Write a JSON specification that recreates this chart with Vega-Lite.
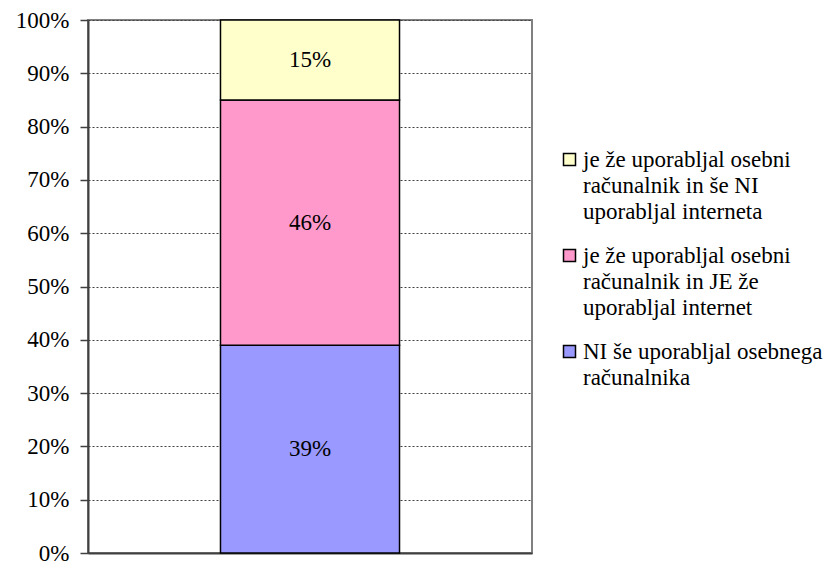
{
  "$schema": "https://vega.github.io/schema/vega-lite/v6.json",
  "autosize": {"type": "none"},
  "padding": {"left": 88, "top": 20, "right": 302, "bottom": 8},
  "width": 444,
  "height": 533,
  "background": "white",
  "config": {
    "view": {"stroke": "#808080", "strokeWidth": 2},
    "font": "'Liberation Serif', serif",
    "style": {"guide-label": {"lineHeight": 26}}
  },
  "data": {
    "values": [
      {"grp": "A", "kat": "NI še uporabljal osebnega računalnika", "share": 0.39, "ord": 1},
      {"grp": "A", "kat": "je že uporabljal osebni računalnik in JE že uporabljal internet", "share": 0.46, "ord": 2},
      {"grp": "A", "kat": "je že uporabljal osebni računalnik in še NI uporabljal interneta", "share": 0.15, "ord": 3}
    ]
  },
  "transform": [
    {"stack": "share", "groupby": ["grp"], "sort": [{"field": "ord", "order": "ascending"}], "as": ["y0", "y1"]},
    {"calculate": "(datum.y0 + datum.y1) / 2", "as": "ymid"}
  ],
  "encoding": {
    "x": {
      "field": "grp", "type": "nominal",
      "scale": {"paddingInner": 0, "paddingOuter": 0.74},
      "axis": {"title": null, "labels": false, "ticks": false, "domainColor": "#404040", "domainWidth": 2}
    }
  },
  "layer": [
    {
      "mark": {"type": "bar", "stroke": "black", "strokeWidth": 1.5},
      "encoding": {
        "y": {
          "field": "y0", "type": "quantitative",
          "scale": {"domain": [0, 1], "nice": false},
          "axis": {
            "title": null, "format": ".0%", "values": [0,0.1,0.2,0.3,0.4,0.5,0.6,0.7,0.8,0.9,1],
            "labelOverlap": false,
            "labelFont": "'Liberation Serif', serif", "labelFontSize": 23, "labelColor": "black", "labelPadding": 11,
            "tickSize": 8, "tickColor": "#404040", "tickWidth": 1.5,
            "domainColor": "#404040", "domainWidth": 2,
            "grid": true, "gridColor": "#404040", "gridDash": [2, 2], "gridWidth": 1
          }
        },
        "y2": {"field": "y1"},
        "color": {
          "field": "kat", "type": "nominal",
          "scale": {
            "domain": [
              "je že uporabljal osebni računalnik in še NI uporabljal interneta",
              "je že uporabljal osebni računalnik in JE že uporabljal internet",
              "NI še uporabljal osebnega računalnika"
            ],
            "range": ["#FFFFCC", "#FF99CC", "#9999FF"]
          },
          "legend": {
            "title": null,
            "orient": "none",
            "legendX": 470,
            "legendY": 128,
            "symbolType": "square",
            "symbolSize": 144,
            "symbolStrokeColor": "black",
            "symbolStrokeWidth": 1.5,
            "symbolOpacity": 1,
            "labelFont": "'Liberation Serif', serif",
            "labelFontSize": 23,
            "labelColor": "black",
            "labelLimit": 300,
            "labelBaseline": "middle",
            "labelOffset": 2,
            "rowPadding": 20,
            "labelExpr": "datum.label == 'NI še uporabljal osebnega računalnika' ? ['NI še uporabljal osebnega', 'računalnika'] : indexof(datum.label, 'JE') >= 0 ? ['je že uporabljal osebni', 'računalnik in JE že', 'uporabljal internet'] : ['je že uporabljal osebni', 'računalnik in še NI', 'uporabljal interneta']"
          }
        }
      }
    },
    {
      "mark": {"type": "text", "font": "'Liberation Serif', serif", "fontSize": 23, "color": "black", "baseline": "middle"},
      "encoding": {
        "y": {"field": "ymid", "type": "quantitative"},
        "text": {"field": "share", "type": "quantitative", "format": ".0%"}
      }
    }
  ]
}
